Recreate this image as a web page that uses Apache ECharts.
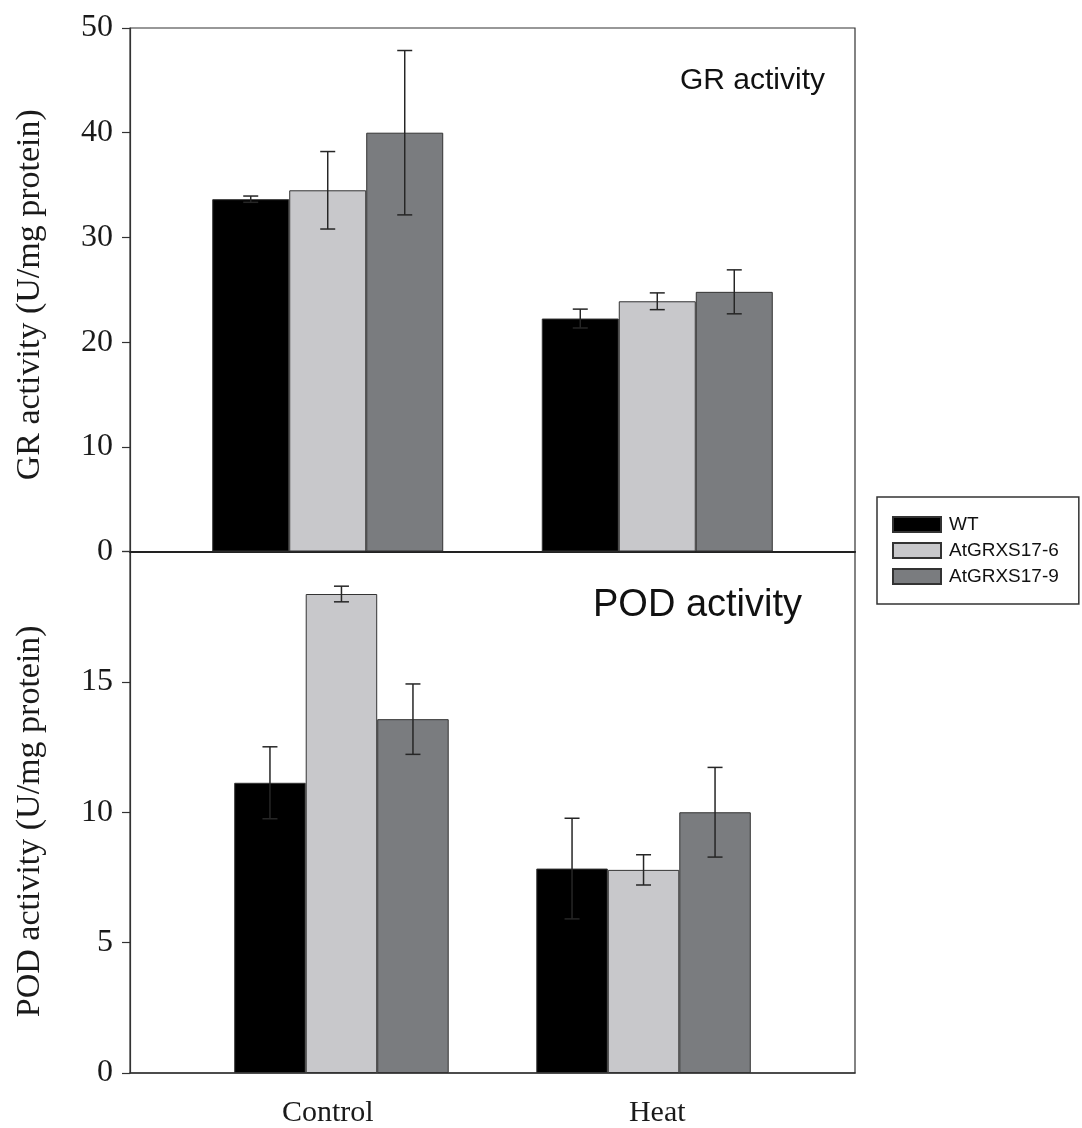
<!DOCTYPE html>
<html>
<head>
<meta charset="utf-8">
<script src="https://cdn.jsdelivr.net/npm/echarts@6/dist/echarts.min.js"></script>
<style>
html,body{margin:0;padding:0;background:#fff;}
#chart{width:1082px;height:1128px;}
</style>
</head>
<body>
<div id="chart"></div>
<script>
// ---- data ----
const categories = ['Control', 'Heat'];
const seriesNames = ['WT', 'AtGRXS17-6', 'AtGRXS17-9'];
// GR activity (U/mg protein)
const grWT = [33.65, 22.25];
const gr6 = [34.5, 23.9];
const gr9 = [40.0, 24.8];
const grWTErr = [0.3, 0.9];
const gr6Err = [3.7, 0.8];
const gr9Err = [7.85, 2.1];
// POD activity (U/mg protein)
const podWT = [11.13, 7.84];
const pod6 = [18.37, 7.79];
const pod9 = [13.57, 10.0];
const podWTErr = [1.38, 1.93];
const pod6Err = [0.3, 0.58];
const pod9Err = [1.35, 1.72];
const grTicks = [0, 10, 20, 30, 40, 50];
const podTicks = [0, 5, 10, 15, 20];

// ---- style ----
const colors = ['#000000', '#c8c8cb', '#7a7c7f'];
const serif = 'Liberation Serif';
const sans = 'Liberation Sans';
const topBW = 77, botBW = 71.5;

const chart = echarts.init(document.getElementById('chart'));

function barSeries(name, vals, idx, grid, bw) {
  return {
    name: name, type: 'bar',
    xAxisIndex: grid === 0 ? 0 : 1, yAxisIndex: grid,
    barWidth: bw, barGap: '0%',
    itemStyle: { color: colors[idx], borderColor: '#333', borderWidth: 1 },
    data: vals.map((v, i) => [i + 1, v]),
    z: 2
  };
}
function errData(groups) {
  const out = [];
  groups.forEach((g, s) => {
    g.vals.forEach((v, i) => out.push([i + 1, v, g.err[i], s]));
  });
  return out;
}
function errSeries(groups, grid, bw) {
  return {
    type: 'custom',
    xAxisIndex: grid === 0 ? 0 : 1, yAxisIndex: grid,
    silent: true, z: 5,
    data: errData(groups),
    renderItem: function (params, api) {
      const x = api.value(0), m = api.value(1), e = api.value(2), s = api.value(3);
      const hi = api.coord([x, m + e]);
      const lo = api.coord([x, m - e]);
      const cx = hi[0] + (s - 1) * bw;
      const cw = 7.5;
      const st = { stroke: '#262626', lineWidth: 1.5 };
      return {
        type: 'group',
        children: [
          { type: 'line', shape: { x1: cx, y1: hi[1], x2: cx, y2: lo[1] }, style: st },
          { type: 'line', shape: { x1: cx - cw, y1: hi[1], x2: cx + cw, y2: hi[1] }, style: st },
          { type: 'line', shape: { x1: cx - cw, y1: lo[1], x2: cx + cw, y2: lo[1] }, style: st }
        ]
      };
    }
  };
}

const tickFont = { fontFamily: serif, fontSize: 32, color: '#1a1a1a' };

const option = {
  backgroundColor: '#fff',
  animation: false,
  title: [
    { text: 'GR activity', left: 675, top: 61,
      textStyle: { fontFamily: sans, fontSize: 30, fontWeight: 'normal', color: '#111' } },
    { text: 'POD activity', left: 588, top: 582,
      textStyle: { fontFamily: sans, fontSize: 38, fontWeight: 'normal', color: '#111' } }
  ],
  legend: {
    orient: 'vertical', left: 877, top: 497,
    data: seriesNames,
    icon: 'rect',
    itemWidth: 48, itemHeight: 15, itemGap: 7,
    padding: [18, 20, 18, 15],
    borderColor: '#333', borderWidth: 1.5,
    textStyle: { fontFamily: sans, fontSize: 19, color: '#111', padding: [0, 0, 0, 3] },
    selectedMode: false
  },
  grid: [
    { left: 130, right: 227, top: 28, height: 523.5, show: true, borderColor: '#333', borderWidth: 1.2, backgroundColor: 'transparent' },
    { left: 130, right: 227, top: 551.5, height: 522.5, show: true, borderColor: '#333', borderWidth: 1.2, backgroundColor: 'transparent' }
  ],
  xAxis: [
    { type: 'value', gridIndex: 0, min: 0.4, max: 2.6, position: 'bottom',
      splitLine: { show: false },
      axisLine: { show: true, lineStyle: { color: '#222', width: 2 } },
      axisTick: { show: false }, axisLabel: { show: false } },
    { type: 'value', gridIndex: 1, min: 0.3, max: 2.7, position: 'top',
      splitLine: { show: false },
      axisLine: { show: false }, axisTick: { show: false }, axisLabel: { show: false } },
    { type: 'value', gridIndex: 1, min: 0.4, max: 2.6, position: 'bottom',
      splitLine: { show: false },
      axisLine: { show: true, lineStyle: { color: '#333', width: 1.5 } },
      axisTick: { show: false },
      axisLabel: {
        show: true, customValues: [1, 2], margin: 25,
        formatter: v => categories[Math.round(v) - 1] || '',
        fontFamily: serif, fontSize: 30, color: '#1a1a1a'
      } }
  ],
  yAxis: [
    { type: 'value', gridIndex: 0, min: grTicks[0], max: grTicks[grTicks.length - 1], interval: 10,
      name: 'GR activity (U/mg protein)', nameLocation: 'middle', nameGap: 83,
      nameTextStyle: { fontFamily: serif, fontSize: 34, color: '#1a1a1a', padding: [0, 10, 0, 0] },
      splitLine: { show: false },
      axisLine: { show: true, lineStyle: { color: '#333', width: 1.2 } },
      axisTick: { show: true, length: 8, lineStyle: { color: '#333', width: 1.2 } },
      axisLabel: Object.assign({ margin: 17 }, tickFont) },
    { type: 'value', gridIndex: 1, min: podTicks[0], max: podTicks[podTicks.length - 1], interval: 5,
      name: 'POD activity (U/mg protein)', nameLocation: 'middle', nameGap: 83,
      nameTextStyle: { fontFamily: serif, fontSize: 34, color: '#1a1a1a', padding: [0, 18, 0, 0] },
      splitLine: { show: false },
      axisLine: { show: true, lineStyle: { color: '#333', width: 1.2 } },
      axisTick: { show: true, length: 8, lineStyle: { color: '#333', width: 1.2 } },
      axisLabel: Object.assign({ margin: 17, formatter: v => (v === 20 ? '' : String(v)) }, tickFont) }
  ],
  series: [
    barSeries(seriesNames[0], grWT, 0, 0, topBW),
    barSeries(seriesNames[1], gr6, 1, 0, topBW),
    barSeries(seriesNames[2], gr9, 2, 0, topBW),
    errSeries([{ vals: grWT, err: grWTErr }, { vals: gr6, err: gr6Err }, { vals: gr9, err: gr9Err }], 0, topBW),
    barSeries(seriesNames[0], podWT, 0, 1, botBW),
    barSeries(seriesNames[1], pod6, 1, 1, botBW),
    barSeries(seriesNames[2], pod9, 2, 1, botBW),
    errSeries([{ vals: podWT, err: podWTErr }, { vals: pod6, err: pod6Err }, { vals: pod9, err: pod9Err }], 1, botBW)
  ]
};
chart.setOption(option);
</script>
</body>
</html>
